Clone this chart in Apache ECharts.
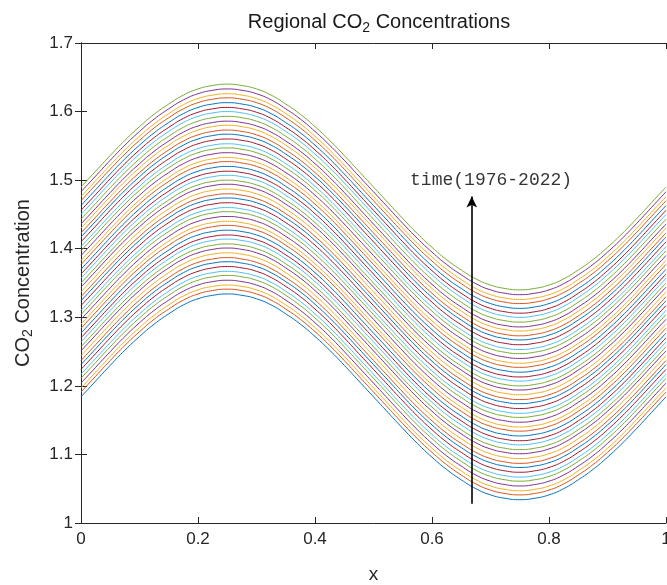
<!DOCTYPE html>
<html>
<head>
<meta charset="utf-8">
<script src="https://cdn.jsdelivr.net/npm/echarts@6/dist/echarts.min.js"></script>
<style>
  html, body { margin: 0; padding: 0; background: #fff; }
  #chart { width: 667px; height: 585px; }
</style>
</head>
<body>
<div id="chart"></div>
<script>
// sample positions along x
var xs = [0, 0.025, 0.05, 0.075, 0.1, 0.125, 0.15, 0.175, 0.2, 0.225,
          0.25, 0.275, 0.3, 0.325, 0.35, 0.375, 0.4, 0.425, 0.45, 0.475,
          0.5, 0.525, 0.55, 0.575, 0.6, 0.625, 0.65, 0.675, 0.7, 0.725,
          0.75, 0.775, 0.8, 0.825, 0.85, 0.875, 0.9, 0.925, 0.95, 0.975, 1];
// shape of a curve, relative to its value at x = 0
var wave = [0, 0.023, 0.046, 0.068, 0.088, 0.106, 0.121, 0.134, 0.143, 0.148,
            0.150, 0.148, 0.143, 0.134, 0.121, 0.106, 0.088, 0.068, 0.046, 0.023,
            0, -0.023, -0.046, -0.068, -0.088, -0.106, -0.121, -0.134, -0.143, -0.148,
            -0.150, -0.148, -0.143, -0.134, -0.121, -0.106, -0.088, -0.068, -0.046, -0.023, 0];
// one curve per year, value at x = 0
var years = [];
for (var yr = 1976; yr <= 2022; yr++) years.push(String(yr));
var levels = [1.184, 1.191, 1.197, 1.204, 1.211, 1.217, 1.224, 1.231, 1.237, 1.244,
              1.251, 1.257, 1.264, 1.270, 1.277, 1.284, 1.290, 1.297, 1.304, 1.310,
              1.317, 1.324, 1.330, 1.337, 1.344, 1.350, 1.357, 1.363, 1.370, 1.377,
              1.383, 1.390, 1.397, 1.403, 1.410, 1.417, 1.423, 1.430, 1.436, 1.443,
              1.450, 1.456, 1.463, 1.470, 1.476, 1.483, 1.490];
// arrow annotation
var arrowFrom = [0.668, 1.028];
var arrowTo = [0.668, 1.476];
var notePos = [0.701, 1.500];
var noteText = 'time(1976-2022)';

var colors = ['#0072BD', '#D95319', '#EDB120', '#7E2F8E', '#77AC30', '#4DBEEE', '#A2142F'];
var axisColor = '#262626';
var font = 'Liberation Sans, Arial, sans-serif';

var series = years.map(function (name, i) {
    return {
        name: name,
        type: 'line',
        smooth: true,
        showSymbol: false,
        silent: true,
        lineStyle: { width: 1, color: colors[i % colors.length] },
        data: xs.map(function (x, k) { return [x, levels[i] + wave[k]]; })
    };
});

series.push({
    type: 'scatter',
    silent: true,
    symbolSize: 0,
    data: [notePos],
    label: {
        show: true,
        position: 'inside',
        formatter: noteText,
        color: '#000',
        fontFamily: 'Liberation Mono, monospace',
        fontSize: 18
    },
    markLine: {
        silent: true,
        symbol: ['none', 'arrow'],
        symbolSize: [8, 11],
        label: { show: false },
        lineStyle: { color: '#000', width: 1.6, type: 'solid' },
        data: [[{ coord: arrowFrom }, { coord: arrowTo }]]
    }
});

function box(pos, isX, show) {
    return {
        type: 'value',
        position: pos,
        min: isX ? 0 : 1,
        max: isX ? 1 : 1.7,
        interval: isX ? 0.2 : 0.1,
        axisLine: { show: true, lineStyle: { color: axisColor, width: 1 } },
        axisTick: { show: true, inside: true, length: 6, lineStyle: { color: axisColor } },
        axisLabel: { show: show, color: axisColor, fontSize: 17, fontFamily: font, margin: 8 },
        splitLine: { show: false }
    };
}

var xBottom = box('bottom', true, true);
xBottom.name = 'x';
xBottom.nameLocation = 'middle';
xBottom.nameGap = 42;
xBottom.nameTextStyle = { color: axisColor, fontSize: 19, fontFamily: font };

var yLeft = box('left', false, true);
yLeft.name = '{n|CO}{s|2}{n| Concentration}';
yLeft.nameLocation = 'middle';
yLeft.nameGap = 46;
yLeft.nameTextStyle = {
    rich: {
        n: { color: axisColor, fontSize: 20, fontFamily: font },
        s: { color: axisColor, fontSize: 14, fontFamily: font, padding: [10, 0, 0, 0] }
    }
};

var chart = echarts.init(document.getElementById('chart'));
chart.setOption({
    animation: false,
    backgroundColor: '#fff',
    title: {
        text: '{n|Regional CO}{s|2}{n| Concentrations}',
        left: 374,
        textAlign: 'center',
        top: 4,
        textStyle: {
            fontWeight: 'normal',
            rich: {
                n: { color: '#1a1a1a', fontSize: 20, fontFamily: font, fontWeight: 'normal' },
                s: { color: '#1a1a1a', fontSize: 14, fontFamily: font, fontWeight: 'normal', padding: [12, 0, 0, 0] }
            }
        }
    },
    grid: { left: 81, right: 1, top: 43, bottom: 62, containLabel: false, outerBoundsMode: 'none' },
    xAxis: [xBottom, box('top', true, false)],
    yAxis: [yLeft, box('right', false, false)],
    series: series
});
</script>
</body>
</html>
